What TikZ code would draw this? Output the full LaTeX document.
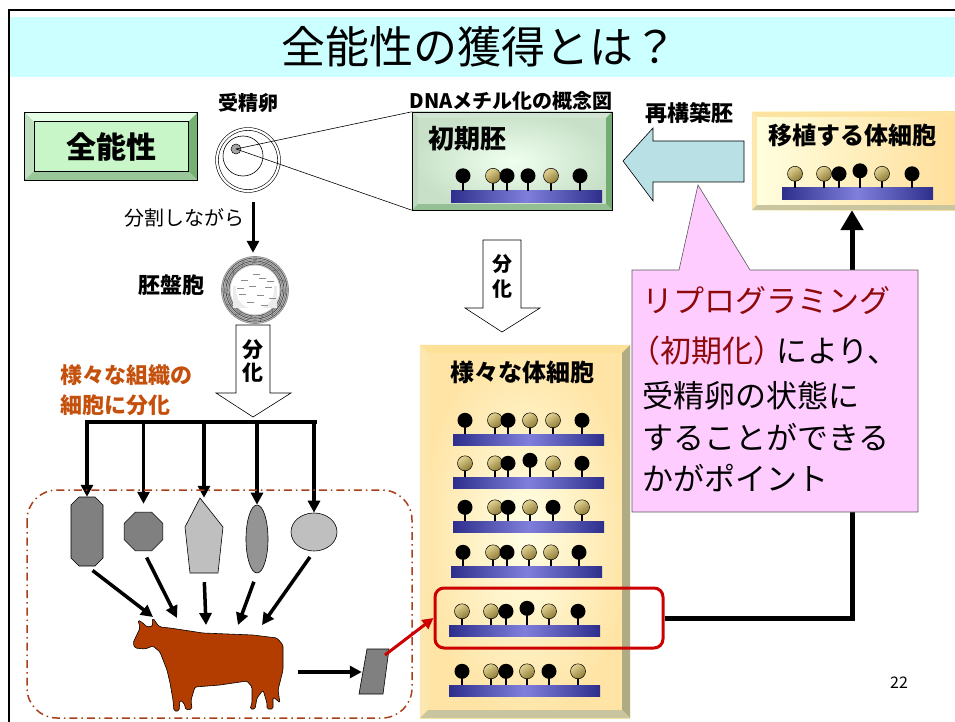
\documentclass[tikz,border=0pt]{standalone}
\usepackage{fontspec}
\setmainfont{Noto Sans CJK JP}
\usetikzlibrary{arrows.meta,calc,positioning,shapes.geometric}

\definecolor{titlecyan}{HTML}{CCFFFF}
\definecolor{btngreen}{HTML}{C8F6C8}
\definecolor{strandblue}{HTML}{2E2E8C}
\definecolor{strandlight}{HTML}{8080DC}
\definecolor{goldlight}{HTML}{E4D494}
\definecolor{golddark}{HTML}{8C7A34}
\definecolor{cowbrown}{HTML}{B33C00}
\definecolor{tissue}{HTML}{C4500C}
\definecolor{calloutpink}{HTML}{FFCCFF}
\definecolor{progred}{HTML}{8E0A0A}
\definecolor{arrowcyan}{HTML}{B9E0E4}
\definecolor{pickred}{HTML}{CC0000}
\definecolor{dashbrown}{HTML}{A8401A}

\newcommand{\jpsize}[2]{\fontsize{#1}{#2}\selectfont}

\tikzstyle{arrow} = [line width=3.5pt,-{Triangle[length=12pt,width=12pt]}]
\tikzstyle{jpbold} = [inner sep=0pt, font={\bfseries\jpsize{20}{24}}]
\tikzstyle{head} = [circle, inner sep=0pt, minimum size=15pt]
\tikzstyle{hb} = [head, fill=black]
\tikzstyle{hg} = [head, draw=black, line width=0.5pt, top color=goldlight, bottom color=golddark, shading angle=35]
\tikzstyle{strand} = [rectangle, inner sep=0pt, minimum height=11pt, left color=strandblue, right color=strandblue, middle color=strandlight]
\tikzstyle{cell} = [draw=black, line width=0.6pt]
\tikzstyle{hollow} = [draw=black, fill=white, line width=0.6pt]
\tikzstyle{callout} = [inner sep=0pt, anchor=base west, font={\jpsize{31}{36}}]

% bevelled frame round a box node: node, depth, top, left, right, bottom
\newcommand{\bevel}[6]{%
  \fill[#3] (#1.north west) -- (#1.north east) -- ($(#1.north east)+(-#2,#2)$) -- ($(#1.north west)+(#2,#2)$) -- cycle;
  \fill[#4] (#1.north west) -- ($(#1.north west)+(#2,#2)$) -- ($(#1.south west)+(#2,-#2)$) -- (#1.south west) -- cycle;
  \fill[#5] (#1.north east) -- ($(#1.north east)+(-#2,#2)$) -- ($(#1.south east)+(-#2,-#2)$) -- (#1.south east) -- cycle;
  \fill[#6] (#1.south west) -- (#1.south east) -- ($(#1.south east)+(-#2,-#2)$) -- ($(#1.south west)+(#2,-#2)$) -- cycle;
}

% lollipops standing on a strand: x/style/lift
\newcommand{\methrow}[2]{%
  \foreach \px/\kind/\lift in {#2}
    \draw[line width=2.5pt] (\px,0 |- #1.north) -- ++(0,{-14-\lift}) node[\kind] {};
}

\begin{document}
\begin{tikzpicture}[x=1pt,y=-1pt]
\useasboundingbox (0,0) rectangle (955,722);

% slide frame and title
\fill[titlecyan] (10,17) rectangle (955,77);
\draw[line width=2.5pt] (9,722) -- (9,10) -- (955,10);
\node[inner sep=0pt, font={\jpsize{44}{48}}] (title) at (479,47) {全能性の獲得とは？};

% totipotency button
\node[rectangle, minimum width=172pt, minimum height=67pt, fill=btngreen, draw=black, line width=0.6pt] (zen) at (111,146.5) {};
\bevel{zen}{9}{black!3!green!10}{green!50!black!25}{green!45!black!55}{green!45!black!40}
\draw[line width=0.6pt] (zen.north west) rectangle (zen.south east);
\draw[line width=0.4pt] ($(zen.north west)+(9,9)$) rectangle ($(zen.south east)+(-9,-9)$);
\node[jpbold, font={\bfseries\jpsize{30}{34}}] at (zen) {全能性};

% fertilised egg
\node[jpbold] (egglbl) at (248,103) {受精卵};
\node[circle, draw, double, double distance=2.2pt, line width=0.6pt, minimum size=62pt] (egg) at (248,160) {};
\draw[line width=0.6pt] (243,156) circle (20);
\node[circle, fill=black!35, draw, line width=0.5pt, minimum size=10pt, inner sep=0pt] (nucleus) at (236,149) {};

% blastocyst
\node[circle, minimum size=66pt, inner sep=0pt] (blast) at (255,290) {};
\fill[black!22] (blast) circle (33.5);
\foreach \r/\g in {33.5/45,32/70,30.5/50,29/75,27.5/55,26/65}
  \draw[black!\g, line width=0.7pt] (blast) circle (\r);
\foreach \a in {0,24,...,359}
  \draw[black!60, line width=0.6pt] ($(blast)+(\a:26)$) -- ($(blast)+(\a+9:32)$);
\fill[white] (blast) circle (24.5);
\fill[black!8] ($(blast)+(-22,-4)$) rectangle ($(blast)+(22,18)$);
\fill[white] (blast) circle (19);
\foreach \dx/\dy in {-14/-10,4/-12,-6/-4,10/-3,-16/4,2/5,14/8,-8/12,6/15,-2/-16,-18/-2,12/-9}
  \draw[black!45, line width=0.8pt] ($(blast)+(\dx,\dy)$) -- ++(7,0);
\node[jpbold, font={\bfseries\jpsize{22}{26}}] (blastlbl) at (171,285) {胚盤胞};

\draw[line width=3pt,-{Triangle[length=12pt,width=12pt]}] ([xshift=5pt,yshift=-11pt]egg.south) -- ([xshift=-2pt,yshift=4pt]blast.north);
\node[inner sep=0pt, font={\jpsize{20}{24}}] (split) at (184,218) {分割しながら};

% hollow arrow: differentiation into tissues
\draw[hollow] (236,325) -- (270,325) -- (270,393) -- (291,393) -- (253,417) -- (216,393) -- (236,393) -- cycle;
\node[jpbold, align=center, font={\bfseries\jpsize{21}{23}}] (diffa) at (253,361) {分\\化};

\node[jpbold, anchor=west, align=left, text=tissue, font={\bfseries\jpsize{22}{30}}] (tissuelbl) at (60,390) {様々な組織の\\細胞に分化};

% branches down to the cells
\coordinate (bl) at (87,422);
\coordinate (br) at (315,422);
\draw[line width=3.5pt, line cap=rect] (bl) -- (br);

\draw[cell, fill=black!50] (79,497) -- (95,497) -- (103,505) -- (103,558) -- (95,566) -- (79,566) -- (71,558) -- (71,505) -- cycle;
\node[minimum width=32pt, minimum height=69pt, inner sep=0pt] (c1) at (87,531.5) {};
\node[cell, fill=black!50, regular polygon, regular polygon sides=8, minimum size=42pt, inner sep=0pt] (c2) at (143.5,531.5) {};
\draw[cell, fill=black!25] (200,498) -- (223,527) -- (218,573) -- (190,573) -- (185,527) -- cycle;
\node[minimum width=38pt, minimum height=75pt, inner sep=0pt] (c3) at (204,535.5) {};
\node[cell, fill=black!42, ellipse, minimum width=22pt, minimum height=68pt, inner sep=0pt] (c4) at (257,539) {};
\node[cell, fill=black!25, ellipse, minimum width=46pt, minimum height=38pt, inner sep=0pt] (c5) at (314,532) {};

\foreach \s in {c1,c3,c4,c5}
  \draw[arrow] (\s.north |- bl) -- (\s.north);
\draw[arrow, shorten >=8pt] (c2.north |- bl) -- (c2.north);

% the cow
\draw[fill=cowbrown, line width=0.6pt, rounded corners=1.5pt]
  (138,620) -- (140,628) -- (133,643) -- (135,648) -- (145,649) -- (153,646) -- (160,652)
  -- (167,670) -- (170,683) -- (173,700) -- (174,711) -- (179,711) -- (180,700) -- (184,703)
  -- (186,710) -- (192,709) -- (191,700) -- (195,687) -- (220,685) -- (247,681) -- (252,687)
  -- (252,703) -- (250,709) -- (255,709) -- (257,698) -- (263,690) -- (267,703) -- (267,709)
  -- (273,709) -- (273,697) -- (277,700) -- (280,703) -- (278,690) -- (283,670) -- (283,645)
  -- (277,638) -- (253,635) -- (203,633) -- (170,628) -- (160,627) -- (157,624) -- (153,618)
  -- (152,622) -- (153,626) -- (147,627) -- (143,623) -- cycle;
\node[minimum width=150pt, minimum height=92pt, inner sep=0pt] (cow) at (208,665) {};

\coordinate (t1) at (153,617);
\coordinate (t2) at (177,618);
\coordinate (t3) at (206,625);
\coordinate (t4) at (238,625);
\coordinate (t5) at (262,625);
\draw[arrow, shorten <=7pt] (c1.south) -- (t1);
\draw[arrow, shorten <=7pt] (c2.south) -- (t2);
\draw[arrow, shorten <=9pt] (c3.south) -- (t3);
\draw[arrow, shorten <=9pt] (c4.south) -- (t4);
\draw[arrow, shorten <=7pt] (c5.south) -- (t5);

% somatic cell sample
\draw[cell, fill=black!50] (367,649) -- (389,649) -- (383,694) -- (359,694) -- cycle;
\node[minimum width=24pt, minimum height=45pt, inner sep=0pt] (slab) at (374,671.5) {};
\draw[arrow, shorten <=15pt] (cow.east |- 0,672) -- (slab.west |- 0,672);

\draw[dashbrown, line width=1.5pt, rounded corners=30pt, dash pattern=on 8pt off 4pt on 1.5pt off 4pt] (27,490) rectangle (412,718);

% early embryo, methylation pattern
\node[rectangle, minimum width=200pt, minimum height=98pt, inner sep=0pt, inner color=green!6, outer color=green!45!black!22] (embryo) at (512,161) {};
\bevel{embryo}{6}{green!40!black!18}{green!40!black!25}{green!40!black!55}{green!40!black!42}
\draw[line width=0.4pt] (embryo.north west) rectangle (embryo.south east);
\node[jpbold, font={\bfseries\jpsize{20}{24}}] (dnalbl) at (511,101) {DNAメチル化の概念図};
\node[jpbold, font={\bfseries\jpsize{26}{30}}] (embryolbl) at (467,139) {初期胚};
\node[strand, minimum width=151pt] (s0) at (526.5,196.5) {};
\methrow{s0}{463/hb/1, 493/hg/1, 507/hb/1, 528/hb/1, 551/hg/1, 580/hb/1}

\draw[line width=0.6pt] (nucleus.center) -- (embryo.north west);
\draw[line width=0.6pt] (nucleus.center) -- (embryo.south west);

% hollow arrow: differentiation into body cells
\draw[hollow] (483,240) -- (521,240) -- (521,308) -- (540,308) -- (502,332) -- (465,308) -- (483,308) -- cycle;
\node[jpbold, align=center, font={\bfseries\jpsize{20}{25}}] (diffb) at (502,276) {分\\化};

% transplanted somatic cell
\node[rectangle, minimum width=210pt, minimum height=98pt, inner sep=0pt, left color=yellow!12, right color=yellow!35!orange!40] (donor) at (857,161) {};
\bevel{donor}{5}{yellow!45!orange!35}{yellow!45!orange!30}{yellow!40!black!55}{yellow!45!black!45}
\node[jpbold, font={\bfseries\jpsize{24}{28}}] (donorlbl) at (852,135) {移植する体細胞};
\node[strand, minimum width=151pt] (sd) at (857.5,193.5) {};
\methrow{sd}{795/hg/0, 824/hg/0, 839/hb/0, 860/hb/3, 882/hg/0, 912/hb/0}

% reconstructed embryo arrow
\draw[fill=arrowcyan, line width=0.6pt] (623,161) -- (653,128) -- (653,141) -- (744,141) -- (744,182) -- (653,182) -- (653,201) -- cycle;
\node[jpbold, font={\bfseries\jpsize{22}{26}}] (reconlbl) at (689,113) {再構築胚};

% various somatic cells
\node[rectangle, minimum width=210pt, minimum height=373pt, inner sep=0pt, inner color=yellow!10, outer color=yellow!40!orange!35] (various) at (525,531.5) {};
\bevel{various}{8}{yellow!45!orange!38}{yellow!40!orange!28}{yellow!40!black!60}{yellow!45!black!45}
\node[jpbold, font={\bfseries\jpsize{24}{28}}] (variouslbl) at (522,372) {様々な体細胞};

\node[strand, minimum width=151pt] (s1) at (528.5,440) {};
\node[strand, minimum width=151pt] (s2) at (528.5,483) {};
\node[strand, minimum width=151pt] (s3) at (528.5,527) {};
\node[strand, minimum width=151pt] (s4) at (526.5,572) {};
\node[strand, minimum width=151pt] (s5) at (524.5,631) {};
\node[strand, minimum width=151pt] (s6) at (524.5,691) {};
\methrow{s1}{465/hb/0, 495/hg/0, 508/hb/0, 530/hg/0, 553/hg/0, 582/hb/0}
\methrow{s2}{465/hg/0, 495/hg/0, 508/hb/0, 530/hb/3, 553/hg/0, 582/hb/0}
\methrow{s3}{465/hb/0, 495/hg/0, 508/hb/0, 530/hg/0, 553/hb/0, 582/hg/0}
\methrow{s4}{463/hb/0, 493/hg/0, 507/hb/0, 529/hg/0, 551/hg/0, 579/hb/0}
\methrow{s5}{462/hg/0, 491/hg/0, 506/hb/0, 527/hb/3, 549/hg/0, 578/hb/0}
\methrow{s6}{462/hb/0, 491/hg/0, 506/hb/0, 527/hg/0, 549/hb/0, 578/hg/0}

% picked cell and the route back to transplant
\node[rectangle, rounded corners=9pt, draw=pickred, line width=3pt, minimum width=228pt, minimum height=60pt] (pick) at (549,618) {};
\coordinate (slabtop) at (385,655);
\draw[pickred, line width=3pt, -{Triangle[length=11pt,width=11pt]}] (slabtop) -- (pick.west);

\coordinate (riser) at (852,0);
\draw[line width=5pt, -{Triangle[length=20pt,width=22pt]}] (pick.east) -| (riser |- donor.south);

% callout
\draw[fill=calloutpink, draw=black!65, line width=0.6pt] (632,270) -- (679,270) -- (698,185) -- (750,270) -- (918,270) -- (918,512) -- (632,512) -- cycle;
\node[callout, text=progred] (cl1) at (642,312) {リプログラミング};
\node[callout] (cl2) at (642,362) {\kern-13pt\textcolor{progred}{（初期化）}\kern-8pt により、};
\node[callout] (cl3) at (642,407) {受精卵の状態に};
\node[callout] (cl4) at (642,449) {することができる};
\node[callout] (cl5) at (642,490) {かがポイント};

\node[inner sep=0pt, font={\jpsize{16}{18}}] (pageno) at (899,683) {22};
\end{tikzpicture}
\end{document}
